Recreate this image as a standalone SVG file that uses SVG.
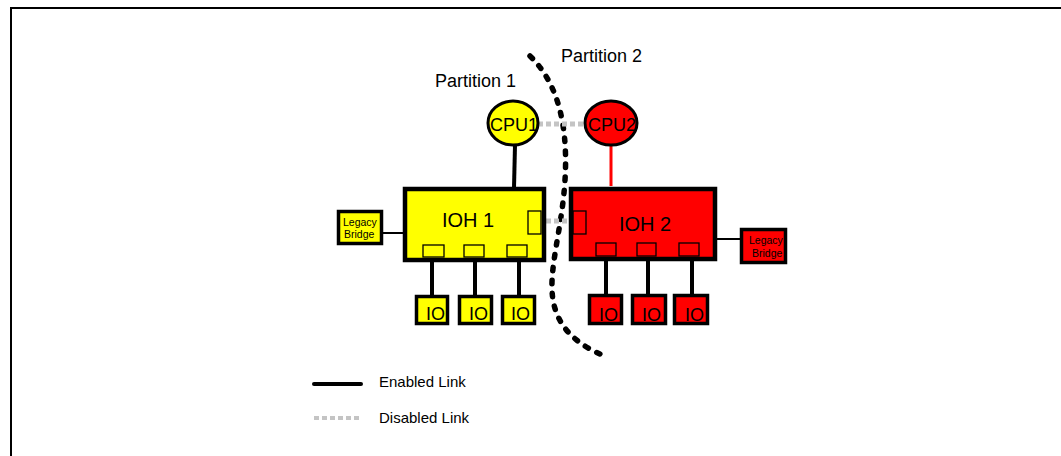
<svg xmlns="http://www.w3.org/2000/svg" width="1061" height="456" viewBox="0 0 1061 456">
<style>
  text { font-family: "Liberation Sans", Arial, sans-serif; fill: #000; }
  .ylw { fill: #ffff00; }
  .red { fill: #ff0000; }
  .box { stroke: #000; stroke-width: 4.5; }
  .io { stroke: #000; stroke-width: 3.5; }
  .port { fill: none; stroke: #000; stroke-width: 1.3; }
  .en { stroke: #000; stroke-width: 4; fill: none; }
  .dis { stroke: #c4c4c4; stroke-width: 5; stroke-dasharray: 5 3; fill: none; }
  .lbl { font-size: 18px; }
</style>
<rect x="0" y="0" width="1061" height="456" fill="#fff"/>
<path d="M11,456 V8 H1061" fill="none" stroke="#000" stroke-width="2"/>

<g id="partition-boundary">
  <path d="M530,56 C560,85 568,130 565,180 C562,230 548,270 553,300 C558,330 580,345 600,354" fill="none" stroke="#000" stroke-width="5.5" stroke-linecap="round" stroke-dasharray="3.5 9.5"/>
</g>
<text x="435" y="87" font-size="18">Partition 1</text>
<text x="561" y="62" font-size="18">Partition 2</text>

<g id="connectors">
  <line class="dis" x1="538" y1="124" x2="586" y2="124"/>
  <line class="dis" x1="546" y1="221" x2="572" y2="221"/>
  <line class="en" x1="515" y1="145" x2="514" y2="188"/>
  <line x1="611" y1="145" x2="611" y2="186" stroke="#ff0000" stroke-width="3"/>
  <line x1="383" y1="233" x2="405" y2="233" stroke="#000" stroke-width="2"/>
  <line x1="717" y1="239" x2="740" y2="239" stroke="#000" stroke-width="2"/>
  <line class="en" x1="432" y1="262" x2="432" y2="296"/>
  <line class="en" x1="475" y1="262" x2="475" y2="296"/>
  <line class="en" x1="519" y1="262" x2="519" y2="296"/>
  <line class="en" x1="606" y1="261" x2="606" y2="295"/>
  <line class="en" x1="648" y1="261" x2="648" y2="295"/>
  <line class="en" x1="692" y1="261" x2="692" y2="295"/>
</g>

<g id="cpu1">
  <ellipse class="ylw" cx="513" cy="123" rx="25" ry="22" stroke="#000" stroke-width="3"/>
  <text x="514" y="131" font-size="18" text-anchor="middle">CPU1</text>
</g>
<g id="cpu2">
  <ellipse class="red" cx="611" cy="123" rx="26" ry="22" stroke="#000" stroke-width="3"/>
  <text x="612" y="131" font-size="18" text-anchor="middle">CPU2</text>
</g>

<g id="ioh1">
  <rect class="ylw box" x="405" y="189" width="139" height="71"/>
  <text x="468" y="227" font-size="20" text-anchor="middle">IOH 1</text>
  <rect class="port" x="528" y="211" width="13" height="23"/>
  <rect class="port" x="423" y="245" width="21" height="12"/>
  <rect class="port" x="464" y="245" width="20" height="12"/>
  <rect class="port" x="507" y="245" width="20" height="12"/>
</g>
<g id="ioh2">
  <rect class="red box" x="571" y="189" width="144" height="70"/>
  <text x="645" y="231" font-size="20" text-anchor="middle">IOH 2</text>
  <rect class="port" x="573" y="211" width="13" height="23"/>
  <rect class="port" x="596" y="243" width="20" height="13"/>
  <rect class="port" x="637" y="243" width="19" height="13"/>
  <rect class="port" x="679" y="243" width="20" height="13"/>
</g>

<g id="legacy1">
  <rect class="ylw io" x="338.5" y="211.5" width="43" height="32"/>
  <text x="343" y="226" font-size="10.5">Legacy</text>
  <text x="344" y="238" font-size="10.5">Bridge</text>
</g>
<g id="legacy2">
  <rect class="red io" x="741.5" y="229.5" width="44" height="33"/>
  <text x="749" y="244" font-size="10.5">Legacy</text>
  <text x="752" y="257" font-size="10.5">Bridge</text>
</g>

<g id="io1-1"><rect class="ylw io" x="416.5" y="296.5" width="31" height="27"/><text x="426" y="320" class="lbl">IO</text></g>
<g id="io1-2"><rect class="ylw io" x="459.5" y="296.5" width="32" height="27"/><text x="469" y="320" class="lbl">IO</text></g>
<g id="io1-3"><rect class="ylw io" x="502.5" y="296.5" width="32" height="27"/><text x="511" y="320" class="lbl">IO</text></g>
<g id="io2-1"><rect class="red io" x="589.5" y="295.5" width="32" height="28"/><text x="599" y="321" class="lbl">IO</text></g>
<g id="io2-2"><rect class="red io" x="632.5" y="295.5" width="33" height="28"/><text x="642" y="321" class="lbl">IO</text></g>
<g id="io2-3"><rect class="red io" x="674.5" y="295.5" width="33" height="28"/><text x="685" y="321" class="lbl">IO</text></g>

<g id="legend">
  <line x1="314" y1="384" x2="361" y2="384" stroke="#000" stroke-width="4" stroke-linecap="round"/>
  <text x="379" y="387" font-size="15">Enabled Link</text>
  <line x1="314" y1="418" x2="361" y2="418" stroke="#c4c4c4" stroke-width="4" stroke-dasharray="5 3"/>
  <text x="379" y="423" font-size="15">Disabled Link</text>
</g>
</svg>
